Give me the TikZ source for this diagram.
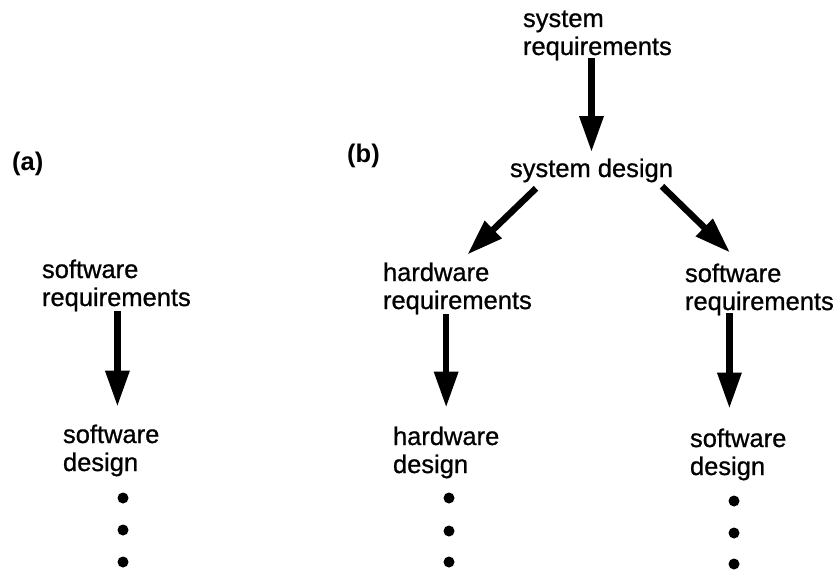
\documentclass[tikz,border=0pt]{standalone}
\usepackage{fontspec}
\setmainfont{Liberation Sans}
\usetikzlibrary{arrows.meta}
\tikzset{
  lbl/.style={inner sep=0pt, outer sep=0pt, anchor=base west, align=left,
    font=\fontsize{25.5}{28}\selectfont\addfontfeature{FakeBold=0.8}},
  tag/.style={inner sep=0pt, anchor=base west, font=\fontsize{25.5}{28}\selectfont\bfseries},
  arr/.style={line width=6.5pt, -{Triangle[width=23pt,length=36pt]}},
  dot/.style={circle, fill=black, inner sep=0pt, minimum size=11pt}
}
\begin{document}
\begin{tikzpicture}[x=1pt,y=-1pt]
  \useasboundingbox (0,0) rectangle (835,575);

  % panel labels
  \node[tag] (taga) at (12,170) {(a)};
  \node[tag] (tagb) at (347,162) {(b)};

  % (a) single software chain (base anchor = last line)
  \node[lbl] (swreqA) at (42,306) {software\\requirements};
  \node[lbl] (swdesA) at (63,471) {software\\design};

  % (b) system decomposition
  \node[lbl] (sysreq) at (523,55) {system\\requirements};
  \node[lbl] (sysdes) at (510,177) {system design};
  \node[lbl] (hwreq)  at (383,309) {hardware\\requirements};
  \node[lbl] (hwdes)  at (393,473) {hardware\\design};
  \node[lbl] (swreqB) at (685,310) {software\\requirements};
  \node[lbl] (swdesB) at (690,475) {software\\design};

  % arrows
  \draw[arr] ([yshift=2pt]sysreq.south -| sysdes.north) -- ([yshift=6.5pt]sysdes.north);
  \draw[arr] ([xshift=26pt,yshift=-6pt]sysdes.south west) -- ([xshift=10pt,yshift=8pt]hwreq.north);
  \draw[arr] ([xshift=-11pt,yshift=-4pt]sysdes.south east) -- ([xshift=45pt,yshift=11pt]swreqB.north west);
  \draw[arr] ([xshift=1pt]swreqA.south) -- ([xshift=1pt,yshift=18pt]swreqA.south |- swdesA.north);
  \draw[arr] (hwreq.south -| hwdes.north) -- ([yshift=19pt]hwdes.north);
  \draw[arr] ([xshift=-30pt,yshift=2pt]swreqB.south) -- ([xshift=-30pt,yshift=20pt]swreqB.south |- swdesB.north);

  % continuation dots
  \node[dot] (a1) at (123,498) {};
  \node[dot] (a2) at (123,530) {};
  \node[dot] (a3) at (123,562) {};
  \node[dot] (h1) at (449,498) {};
  \node[dot] (h2) at (449,531) {};
  \node[dot] (h3) at (449,562) {};
  \node[dot] (s1) at (734,501) {};
  \node[dot] (s2) at (734,533) {};
  \node[dot] (s3) at (734,564) {};
\end{tikzpicture}
\end{document}
